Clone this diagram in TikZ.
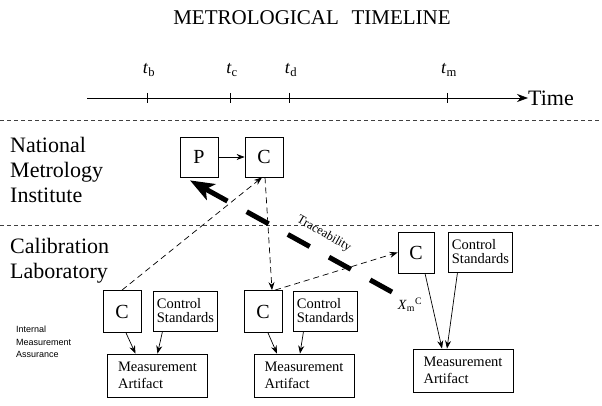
\documentclass[tikz,border=0pt]{standalone}
\usepackage{amsmath}
\usepackage{fontspec}
\setmainfont{Liberation Serif}
\newfontfamily\smallsans{Liberation Sans}
\usetikzlibrary{arrows.meta,positioning}

\begin{document}
\begin{tikzpicture}[x=1pt, y=-1pt, >={Stealth[length=8pt,width=6pt]},
    box/.style={draw, line width=0.8pt, inner sep=0pt},
    cbox/.style={box, minimum width=38pt, minimum height=40pt, font=\fontsize{20}{24}\selectfont},
    csbox/.style={box, minimum width=64pt, minimum height=40pt, align=left, font=\fontsize{14.5}{14}\selectfont},
    mabox/.style={box, minimum width=100pt, minimum height=43pt, align=left, font=\fontsize{14.5}{17}\selectfont},
    sep/.style={dash pattern=on 4pt off 3pt, line width=0.6pt, black!75},
    link/.style={->, dash pattern=on 6pt off 4pt, line width=0.7pt},
    flow/.style={->, line width=0.7pt},
    bigtext/.style={anchor=north west, align=left, inner sep=0pt, font=\fontsize{22}{25}\selectfont}]

  \useasboundingbox (0,0) rectangle (602,406);

  \node[font=\fontsize{21}{24}\selectfont] (title) at (312,18) {METROLOGICAL\hspace{0.6em}TIMELINE};

  % time axis
  \coordinate (t0) at (87,98);
  \node[anchor=west, inner sep=0pt, font=\fontsize{22}{24}\selectfont] (time) at (528,98) {Time};
  \draw[line width=0.7pt, -{Stealth[length=11pt,width=8pt]}] (t0) -- (time.west);
  \foreach \x/\s in {147/b,230/c,289/d,447/m} {
    \draw[line width=0.7pt] (\x,93) -- (\x,103);
    \node[font=\fontsize{18}{20}\selectfont] (t\s) at (\x+2,70) {$\text{\textit{t}}_{\text{\s}}$};
  }

  \draw[sep] (0,120) -- (602,120);
  \draw[sep] (0,225) -- (602,225);

  \node[bigtext] (nmi) at (10,137) {National\\Metrology\\Institute};
  \node[bigtext] (cal) at (10,238) {Calibration\\Laboratory};
  \node[anchor=north west, align=left, inner sep=0pt, font=\smallsans\fontsize{9}{12.5}\selectfont] (ima) at (16,326) {Internal\\Measurement\\Assurance};

  % national metrology institute
  \node[cbox] (p) at (199,157) {P};
  \node[cbox] (nmic) at (264,157) {C};
  \draw[flow] (p) -- (nmic);

  % calibration laboratory
  \node[cbox, minimum width=36pt, minimum height=41pt] (labc) at (416,252.5) {C};
  \node[csbox] (labcs) at (480.5,252) {Control\\Standards};
  \node[mabox] (labma) at (463,370.5) {Measurement\\Artifact};

  \node[cbox, minimum height=42pt] (lc) at (122,311.5) {C};
  \node[csbox] (lcs) at (185.5,311) {Control\\Standards};
  \node[mabox] (lma) at (157.5,375.5) {Measurement\\Artifact};

  \node[cbox, minimum height=42pt] (mc) at (263,311.5) {C};
  \node[csbox] (mcs) at (325.5,311) {Control\\Standards};
  \node[mabox] (mma) at (304,375.5) {Measurement\\Artifact};

  \draw[flow] ([xshift=4pt]lc.south) -- ([xshift=-22pt]lma.north);
  \draw[flow] ([xshift=-23pt]lcs.south) -- ([xshift=0pt]lma.north);
  \draw[flow] ([xshift=5pt]mc.south) -- ([xshift=-27pt]mma.north);
  \draw[flow] ([xshift=-22pt]mcs.south) -- ([xshift=-4pt]mma.north);
  \draw[flow] ([xshift=9pt]labc.south) -- ([xshift=-21pt]labma.north);
  \draw[flow] ([xshift=-23pt]labcs.south) -- ([xshift=-16pt]labma.north);

  \draw[link] (lc.north) -- ([xshift=-2pt]nmic.south);
  \draw[link] ([xshift=1pt]nmic.south) -- ([xshift=9pt]mc.north);
  \draw[link] ([xshift=12pt]mc.north) -- (labc.west);

  % traceability
  \coordinate (trtail) at (392,292);
  \draw[line width=5pt, dash pattern=on 25pt off 22pt, -{Stealth[length=24pt,width=18pt,inset=6pt]}] (trtail) -- ([xshift=-9pt,yshift=-3pt]p.south);
  \node[rotate=-29.6, font=\fontsize{12.5}{14}\selectfont] (trace) at (324,234) {Traceability};
  \node[font=\fontsize{14}{16}\selectfont] (xm) at (410,305) {$\text{\textit{X}}_{\text{m}}{}^{\text{C}}$};

\end{tikzpicture}
\end{document}
